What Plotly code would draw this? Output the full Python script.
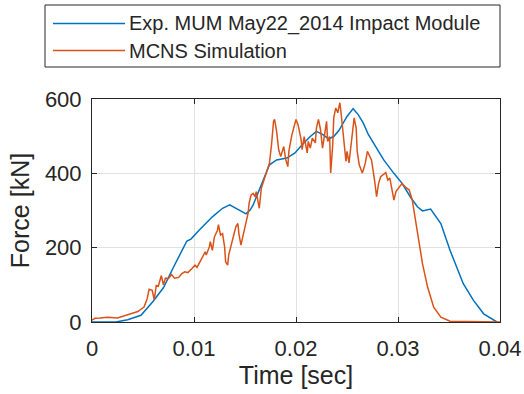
import plotly.graph_objects as go

# ---------------- data ----------------
exp_name = "Exp. MUM May22_2014 Impact Module"
sim_name = "MCNS Simulation"

exp_t = [0, 0.00234, 0.0035, 0.0048, 0.0060, 0.0070, 0.0080, 0.0086, 0.0093, 0.0097,
         0.0105, 0.0118, 0.0128, 0.0135, 0.0144, 0.0151, 0.0155, 0.0158, 0.0166, 0.0174,
         0.0181, 0.0191, 0.0199, 0.0206, 0.0214, 0.0220, 0.0226, 0.0232, 0.0237, 0.0242,
         0.0250, 0.0256, 0.0261, 0.0266, 0.0271, 0.0276, 0.0286, 0.0296, 0.0304, 0.0312,
         0.0319, 0.0324, 0.0332, 0.0342, 0.0351, 0.0364, 0.0374, 0.0384, 0.0397]
exp_f = [0, 0, 6, 18, 56, 92, 148, 180, 218, 223,
         247, 283, 306, 315, 301, 291, 301, 315, 369, 423,
         436, 441, 455, 477, 499, 513, 505, 493, 499, 515,
         553, 574, 558, 535, 504, 482, 436, 400, 373, 337,
         310, 299, 304, 265, 193, 103, 58, 22, 0]

sim_t = [0, 0.0003, 0.0008, 0.0015, 0.0025, 0.0029, 0.0038, 0.0045, 0.0051, 0.0054,
         0.0056, 0.0059, 0.0061, 0.0063, 0.0065, 0.0068, 0.0070, 0.0072, 0.0075, 0.0078,
         0.0081, 0.0085, 0.0088, 0.0091, 0.0094, 0.0098, 0.0101, 0.0103, 0.0106, 0.0108,
         0.0111, 0.0112, 0.0115, 0.0116, 0.0118, 0.0120, 0.0123, 0.0124, 0.0126, 0.0128,
         0.0130, 0.0131, 0.0133, 0.0134, 0.0137, 0.0139, 0.0141, 0.0143, 0.0144, 0.0146,
         0.0148, 0.0151, 0.0153, 0.0154, 0.0156, 0.0158, 0.0160, 0.0161, 0.0164, 0.0166,
         0.0170, 0.0172, 0.0174, 0.0176, 0.0178, 0.0179, 0.0181, 0.0183, 0.0185, 0.0188,
         0.0190, 0.0192, 0.0193, 0.0196, 0.0198, 0.0200, 0.0202, 0.0205, 0.0206, 0.0208,
         0.0211, 0.0212, 0.0214, 0.0216, 0.0219, 0.0220, 0.0222, 0.0224, 0.0226, 0.0228,
         0.0230, 0.0231, 0.0233, 0.0234, 0.0236, 0.0237, 0.0239, 0.0241, 0.0243, 0.0244,
         0.0246, 0.0248, 0.0249, 0.0250, 0.0252, 0.0254, 0.0256, 0.0257, 0.0259, 0.0260,
         0.0262, 0.0265, 0.0266, 0.0268, 0.0270, 0.0272, 0.0274, 0.0277, 0.0279, 0.0281,
         0.0283, 0.0288, 0.0290, 0.0292, 0.0294, 0.0296, 0.0298, 0.0302, 0.0304, 0.0307,
         0.0311, 0.0314, 0.0316, 0.0319, 0.0321, 0.0324, 0.0329, 0.0335, 0.0342, 0.0351,
         0.0400]
sim_f = [5, 10, 11, 13, 11, 15, 22, 28, 40, 62,
         88, 85, 60, 98, 96, 125, 100, 118, 117, 128,
         118, 120, 130, 135, 133, 144, 153, 147, 162, 175,
         189, 180, 202, 216, 193, 229, 247, 262, 234, 238,
         202, 162, 153, 180, 211, 229, 256, 265, 238, 207,
         234, 270, 292, 319, 342, 346, 337, 351, 306, 360,
         396, 414, 428, 477, 540, 545, 513, 464, 445, 472,
         436, 418, 459, 504, 522, 545, 531, 491, 464, 499,
         455, 486, 468, 495, 482, 522, 545, 518, 468, 504,
         540, 486, 499, 401, 477, 549, 576, 563, 590, 567,
         513, 459, 432, 459, 428, 477, 531, 549, 522, 459,
         423, 401, 409, 428, 459, 445, 436, 382, 337, 373,
         391, 402, 382, 387, 355, 328, 351, 364, 373, 364,
         355, 328, 292, 247, 202, 157, 94, 40, 13, 2,
         0]

x_ticks = [0, 0.01, 0.02, 0.03, 0.04]
x_tick_labels = ["0", "0.01", "0.02", "0.03", "0.04"]
y_ticks = [0, 200, 400, 600]
y_tick_labels = ["0", "200", "400", "600"]

# ---------------- styling ----------------
BLUE = "#0072BD"
ORANGE = "#D95319"
TXT = "#262626"
FONT = "Liberation Sans, Arial, Helvetica, sans-serif"

W, H = 524, 394
L, R, T, B = 92, 24, 99, 72
pw, ph = W - L - R, H - T - B

def px(x):
    return (x - L) / pw

def py(y):
    return (H - B - y) / ph

fig = go.Figure()
fig.add_trace(go.Scatter(x=exp_t, y=exp_f, mode="lines", name=exp_name,
                         line=dict(color=BLUE, width=1.5), showlegend=False))
fig.add_trace(go.Scatter(x=sim_t, y=sim_f, mode="lines", name=sim_name,
                         line=dict(color=ORANGE, width=1.5), showlegend=False))

axis_common = dict(showgrid=True, gridcolor="#e2e2e2", gridwidth=1,
                   showline=True, linecolor=TXT, linewidth=1, mirror="ticks",
                   ticks="inside", ticklen=5, tickcolor=TXT, tickwidth=1,
                   zeroline=False, tickfont=dict(family=FONT, size=22, color=TXT))

fig.update_layout(
    width=W, height=H,
    margin=dict(l=L, r=R, t=T, b=B, pad=0),
    paper_bgcolor="white", plot_bgcolor="white",
    font=dict(family=FONT, color=TXT),
    xaxis=dict(range=[0, 0.04], tickvals=x_ticks, ticktext=x_tick_labels,
               ticklabelstandoff=7,
               title=dict(text="Time [sec]", font=dict(family=FONT, size=25, color=TXT), standoff=6),
               automargin=False, **axis_common),
    yaxis=dict(range=[0, 600], tickvals=y_ticks, ticktext=y_tick_labels,
               ticklabelstandoff=5,
               title=dict(text="Force [kN]", font=dict(family=FONT, size=25, color=TXT), standoff=8),
               automargin=False, **axis_common),
)

# legend drawn manually (MATLAB style long sample lines)
shapes = [
    dict(type="rect", xref="paper", yref="paper", x0=px(45), x1=px(500), y0=py(67), y1=py(5),
         line=dict(color=TXT, width=1), fillcolor="white", layer="above"),
    dict(type="line", xref="paper", yref="paper", x0=px(53), x1=px(125), y0=py(23.5), y1=py(23.5),
         line=dict(color=BLUE, width=1.5)),
    dict(type="line", xref="paper", yref="paper", x0=px(53), x1=px(125), y0=py(50.5), y1=py(50.5),
         line=dict(color=ORANGE, width=1.5)),
]
annotations = [
    dict(text=exp_name, xref="paper", yref="paper", x=px(127), y=py(24), xanchor="left",
         yanchor="middle", showarrow=False, font=dict(family=FONT, size=20, color=TXT)),
    dict(text=sim_name, xref="paper", yref="paper", x=px(127), y=py(51), xanchor="left",
         yanchor="middle", showarrow=False, font=dict(family=FONT, size=20, color=TXT)),
]
fig.update_layout(shapes=shapes, annotations=annotations)

fig.write_html("out.html")
